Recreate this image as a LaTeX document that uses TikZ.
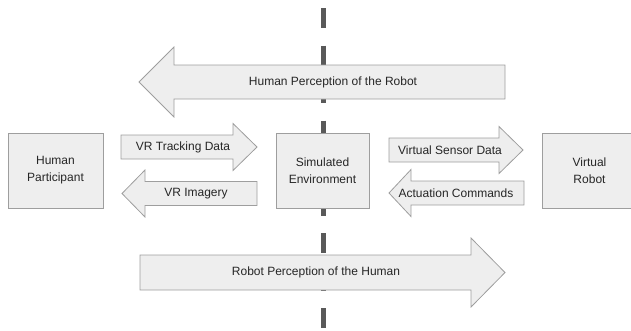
\documentclass[tikz,border=0pt]{standalone}
\usepackage{fontspec}
\setmainfont{Liberation Sans}
\definecolor{fond}{HTML}{EEEEEE}
\definecolor{bord}{HTML}{9E9E9E}
\definecolor{trait}{HTML}{595959}
\tikzset{
	bloc/.style={fill=fond, draw=bord, line width=0.8pt, line join=miter},
	boite/.style={bloc, minimum width=95pt, minimum height=75pt, align=center},
	etiq/.style={font=\fontsize{12}{17}\selectfont, text=black!85}
}
% fleche pleine vers la droite : queue, pointe, y, demi-corps, demi-tete, tete
\newcommand{\blocD}[6]{\draw[bloc] (#1,#3-#4) -- (#2-#6,#3-#4) -- (#2-#6,#3-#5) -- (#2,#3) -- (#2-#6,#3+#5) -- (#2-#6,#3+#4) -- (#1,#3+#4) -- cycle;}
% fleche pleine vers la gauche : pointe, queue, y, demi-corps, demi-tete, tete
\newcommand{\blocG}[6]{\draw[bloc] (#2,#3-#4) -- (#1+#6,#3-#4) -- (#1+#6,#3-#5) -- (#1,#3) -- (#1+#6,#3+#5) -- (#1+#6,#3+#4) -- (#2,#3+#4) -- cycle;}

\begin{document}
\begin{tikzpicture}[x=1pt, y=-1pt]
	\useasboundingbox (0,0) rectangle (631,330);
	\clip (0,0) rectangle (631,330);
	% separation
	\draw[trait, line width=5pt, dash pattern=on 20pt off 17.5pt] (323.5,8) -- (323.5,345);
	% perception
	\blocG{139}{505}{82}{17}{35}{35}
	\node[etiq] (hpr) at (333,82) {Human Perception of the Robot};
	\blocD{140}{505}{272.5}{17.5}{34.5}{34}
	\node[etiq] (rph) at (316,272.5) {Robot Perception of the Human};
	% blocs
	\node[boite, etiq] (hum) at (55.5,170.5) {Human\\Participant};
	\node[boite, etiq, minimum width=93pt] (sim) at (322.5,170.5) {Simulated\\Environment};
	\node[boite, etiq] (vrb) at (589.5,170.5) {Virtual\\Robot};
	% echanges
	\blocD{121}{257}{147}{12}{23.5}{24}
	\node[etiq] (trk) at (183,147) {VR Tracking Data};
	\blocG{122}{257}{193.5}{12}{23.5}{23}
	\node[etiq] (img) at (196,193.5) {VR Imagery};
	\blocD{389}{523}{150}{12}{23.5}{24}
	\node[etiq] (sen) at (450,150) {Virtual Sensor Data};
	\blocG{389}{524}{193}{12}{23.5}{22}
	\node[etiq] (act) at (456,193) {Actuation Commands};
\end{tikzpicture}
\end{document}
